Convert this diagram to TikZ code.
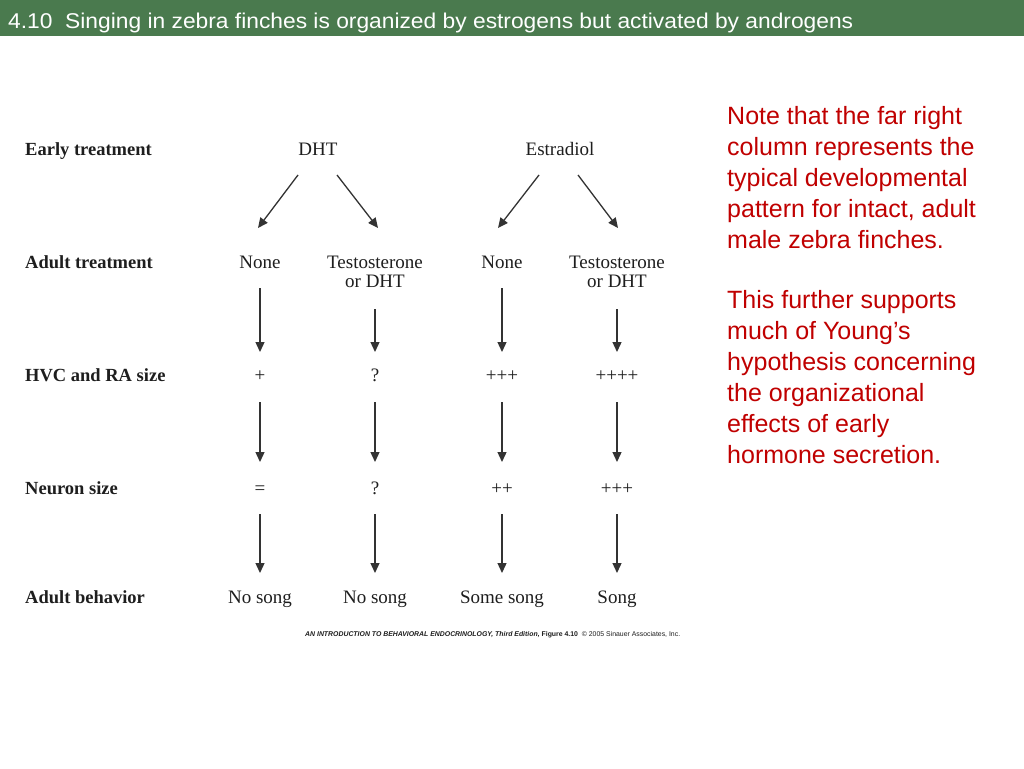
\documentclass[tikz,border=0pt]{standalone}
\usepackage{fontspec}
\usepackage{graphicx}
\usetikzlibrary{arrows.meta,calc}
\setmainfont{Liberation Serif}
\newfontfamily\sansf{Liberation Sans}
\definecolor{barg}{HTML}{4A7A4E}
\definecolor{notered}{HTML}{C00000}
\definecolor{ink}{HTML}{1E1E1E}
\definecolor{arrc}{HTML}{333333}
\tikzset{
  lbl/.style={anchor=base west,inner sep=0pt,font=\fontsize{18.5}{20}\selectfont\bfseries,text=ink},
  col/.style={anchor=base,inner sep=0pt,font=\fontsize{19}{20}\selectfont,text=ink},
  arr/.style={draw=arrc,line width=1.3pt,-{Triangle[length=10pt,width=9pt]}},
  note/.style={anchor=base west,inner sep=0pt,font=\sansf\fontsize{25}{31}\selectfont,text=notered}
}
\newcommand{\twoline}[2]{\vtop{\baselineskip=19.5pt\lineskiplimit=-30pt\halign{\hfil##\hfil\cr #1\cr #2\cr}}}
\begin{document}
\begin{tikzpicture}[x=1pt,y=-1pt]
\useasboundingbox (0,0) rectangle (1024,768);
\fill[white] (0,0) rectangle (1024,768);
\fill[barg] (0,0) rectangle (1024,36);
\node[anchor=base west,inner sep=0pt,text=white] (title) at (8,29)
  {\resizebox{845pt}{15.5pt}{\sansf 4.10\ \ Singing in zebra finches is organized by estrogens but activated by androgens}};

% row labels
\node[lbl] (l1) at (25,155) {Early treatment};
\node[lbl] (l2) at (25,268) {Adult treatment};
\node[lbl] (l3) at (25,381) {HVC and RA size};
\node[lbl] (l4) at (25,494) {Neuron size};
\node[lbl] (l5) at (25,603) {Adult behavior};

% early treatment
\node[col] (dht) at (318,155) {DHT};
\node[col] (est) at (560,155) {Estradiol};

% adult treatment
\node[col] (n1) at (260,268) {None};
\node[col] (t1) at (375,268) {\twoline{Testosterone}{or DHT}};
\node[col] (n2) at (502,268) {None};
\node[col] (t2) at (617,268) {\twoline{Testosterone}{or DHT}};

% HVC and RA size
\node[col] (h1) at (260,381) {+};
\node[col] (h2) at (375,381) {?};
\node[col] (h3) at (502,381) {+++};
\node[col] (h4) at (617,381) {++++};

% neuron size
\node[col] (r1) at (260,494) {=};
\node[col] (r2) at (375,494) {?};
\node[col] (r3) at (502,494) {++};
\node[col] (r4) at (617,494) {+++};

% adult behavior
\node[col] (b1) at (260,603) {No song};
\node[col] (b2) at (375,603) {No song};
\node[col] (b3) at (502,603) {Some song};
\node[col] (b4) at (617,603) {Song};

% diagonal arrows
\draw[arr] ($(dht.base)+(-20,20)$) -- ($(n1.base)+(-2,-40)$);
\draw[arr] ($(dht.base)+(19,20)$) -- ($(t1.base)+(3,-40)$);
\draw[arr] ($(est.base)+(-21,20)$) -- ($(n2.base)+(-4,-40)$);
\draw[arr] ($(est.base)+(18,20)$) -- ($(t2.base)+(1,-40)$);

% vertical arrows
\draw[arr] ($(n1.base)+(0,20)$) -- ($(h1.base)+(0,-29)$);
\draw[arr] ($(t1.base)+(0,41)$) -- ($(h2.base)+(0,-29)$);
\draw[arr] ($(n2.base)+(0,20)$) -- ($(h3.base)+(0,-29)$);
\draw[arr] ($(t2.base)+(0,41)$) -- ($(h4.base)+(0,-29)$);

\draw[arr] ($(h1.base)+(0,21)$) -- ($(r1.base)+(0,-32)$);
\draw[arr] ($(h2.base)+(0,21)$) -- ($(r2.base)+(0,-32)$);
\draw[arr] ($(h3.base)+(0,21)$) -- ($(r3.base)+(0,-32)$);
\draw[arr] ($(h4.base)+(0,21)$) -- ($(r4.base)+(0,-32)$);

\draw[arr] ($(r1.base)+(0,20)$) -- ($(b1.base)+(0,-30)$);
\draw[arr] ($(r2.base)+(0,20)$) -- ($(b2.base)+(0,-30)$);
\draw[arr] ($(r3.base)+(0,20)$) -- ($(b3.base)+(0,-30)$);
\draw[arr] ($(r4.base)+(0,20)$) -- ($(b4.base)+(0,-30)$);

% credit
\node[anchor=west,inner sep=0pt,text=ink] (credit) at (305,635)
  {\resizebox{375pt}{!}{\sansf\fontsize{7}{8}\selectfont\textbf{\textit{AN INTRODUCTION TO BEHAVIORAL ENDOCRINOLOGY, Third Edition,}} \textbf{Figure 4.10}\ \ \textcopyright\ 2005 Sinauer Associates, Inc.}};

% red notes
\node[note] (p1) at (727,124) {\vtop{\baselineskip=31pt\hbox{Note that the far right}\hbox{column represents the}\hbox{typical developmental}\hbox{pattern for intact, adult}\hbox{male zebra finches.}}};
\node[note] (p2) at (727,308) {\vtop{\baselineskip=31pt\hbox{This further supports}\hbox{much of Young’s}\hbox{hypothesis concerning}\hbox{the organizational}\hbox{effects of early}\hbox{hormone secretion.}}};
\end{tikzpicture}
\end{document}
